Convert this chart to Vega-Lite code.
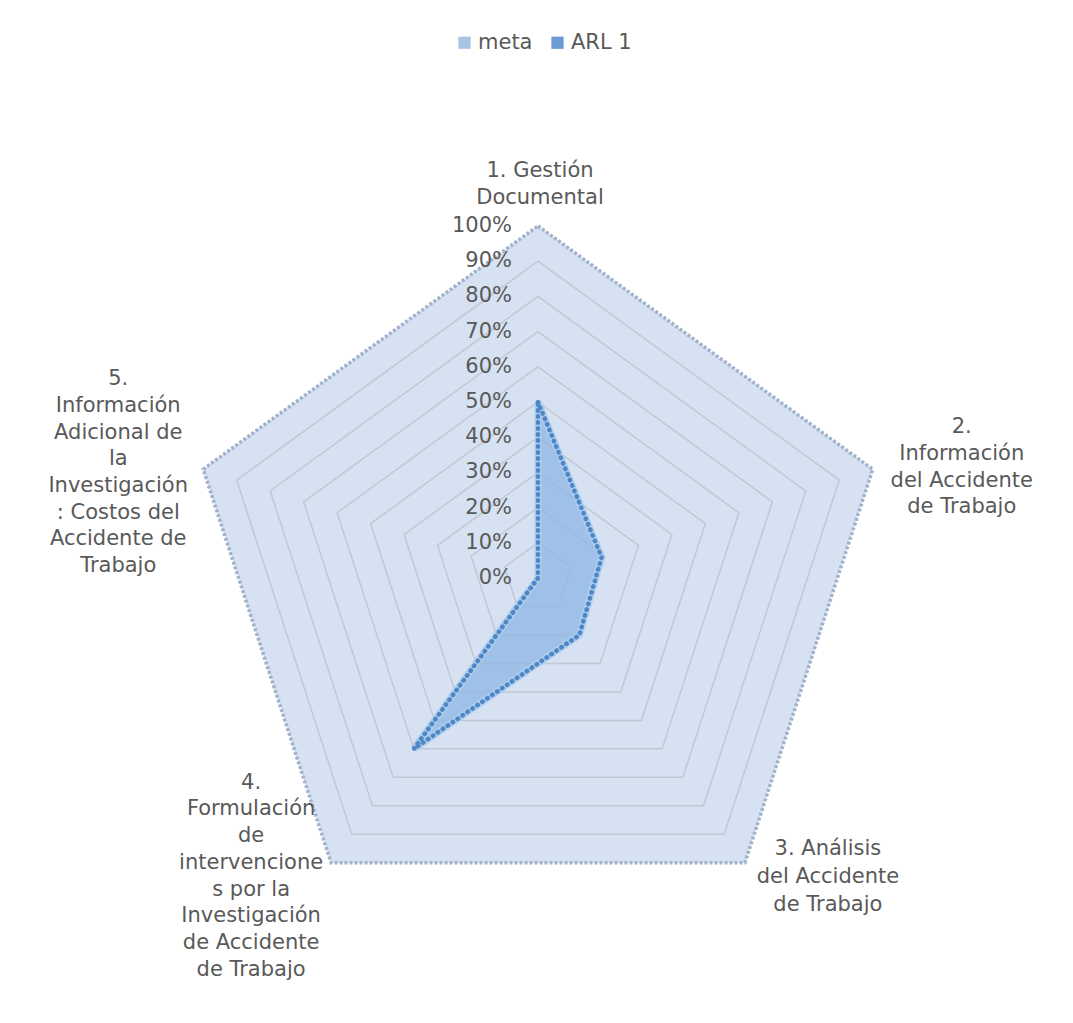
{
  "$schema": "https://vega.github.io/schema/vega-lite/v6.json",
  "width": 1073,
  "height": 1023,
  "autosize": "none",
  "padding": 0,
  "background": "white",
  "config": {"view": {"stroke": null}, "font": "DejaVu Sans"},
  "datasets": {
    "series": [
      {"eje": "1. Gestión Documental", "etiqueta": "1. Gestión|Documental", "k": 0, "serie": "meta", "valor": 1},
      {"eje": "2. Información del Accidente de Trabajo", "etiqueta": "2.|Información|del Accidente|de Trabajo", "k": 1, "serie": "meta", "valor": 1},
      {"eje": "3. Análisis del Accidente de Trabajo", "etiqueta": "3. Análisis|del Accidente|de Trabajo", "k": 2, "serie": "meta", "valor": 1},
      {"eje": "4. Formulación de intervenciones por la Investigación de Accidente de Trabajo", "etiqueta": "4.|Formulación|de|intervencione|s por la|Investigación|de Accidente|de Trabajo", "k": 3, "serie": "meta", "valor": 1},
      {"eje": "5. Información Adicional de la Investigación: Costos del Accidente de Trabajo", "etiqueta": "5.|Información|Adicional de|la|Investigación|: Costos del|Accidente de|Trabajo", "k": 4, "serie": "meta", "valor": 1},
      {"eje": "1. Gestión Documental", "etiqueta": "1. Gestión|Documental", "k": 0, "serie": "ARL 1", "valor": 0.5},
      {"eje": "2. Información del Accidente de Trabajo", "etiqueta": "2.|Información|del Accidente|de Trabajo", "k": 1, "serie": "ARL 1", "valor": 0.19},
      {"eje": "3. Análisis del Accidente de Trabajo", "etiqueta": "3. Análisis|del Accidente|de Trabajo", "k": 2, "serie": "ARL 1", "valor": 0.2},
      {"eje": "4. Formulación de intervenciones por la Investigación de Accidente de Trabajo", "etiqueta": "4.|Formulación|de|intervencione|s por la|Investigación|de Accidente|de Trabajo", "k": 3, "serie": "ARL 1", "valor": 0.6},
      {"eje": "5. Información Adicional de la Investigación: Costos del Accidente de Trabajo", "etiqueta": "5.|Información|Adicional de|la|Investigación|: Costos del|Accidente de|Trabajo", "k": 4, "serie": "ARL 1", "valor": 0}
    ],
    "niveles": [
      {"nivel": 0, "k": [0, 1, 2, 3, 4]},
      {"nivel": 0.1, "k": [0, 1, 2, 3, 4]},
      {"nivel": 0.2, "k": [0, 1, 2, 3, 4]},
      {"nivel": 0.3, "k": [0, 1, 2, 3, 4]},
      {"nivel": 0.4, "k": [0, 1, 2, 3, 4]},
      {"nivel": 0.5, "k": [0, 1, 2, 3, 4]},
      {"nivel": 0.6, "k": [0, 1, 2, 3, 4]},
      {"nivel": 0.7, "k": [0, 1, 2, 3, 4]},
      {"nivel": 0.8, "k": [0, 1, 2, 3, 4]},
      {"nivel": 0.9, "k": [0, 1, 2, 3, 4]},
      {"nivel": 1, "k": [0, 1, 2, 3, 4]}
    ]
  },
  "encoding": {
    "x": {"field": "px", "type": "quantitative", "scale": {"domain": [-1.5284, 1.5199], "nice": false, "zero": false}, "axis": null},
    "y": {"field": "py", "type": "quantitative", "scale": {"domain": [-1.2642, 1.642], "nice": false, "zero": false}, "axis": null}
  },
  "layer": [
    {
      "data": {"name": "series"},
      "transform": [
        {"filter": "datum.serie == 'meta'"},
        {"calculate": "datum.valor * sin(datum.k * 2 * PI / 5)", "as": "px"},
        {"calculate": "datum.valor * cos(datum.k * 2 * PI / 5)", "as": "py"}
      ],
      "mark": {"type": "line", "interpolate": "linear-closed", "fill": "#d6e1f2", "stroke": null},
      "encoding": {"order": {"field": "k"}}
    },
    {
      "data": {"name": "niveles"},
      "transform": [
        {"flatten": ["k"]},
        {"filter": "datum.nivel > 0 && datum.nivel < 1"},
        {"calculate": "datum.nivel * sin(datum.k * 2 * PI / 5)", "as": "px"},
        {"calculate": "datum.nivel * cos(datum.k * 2 * PI / 5)", "as": "py"}
      ],
      "mark": {"type": "line", "interpolate": "linear-closed", "stroke": "#c2c8d2", "strokeWidth": 1.5},
      "encoding": {"order": {"field": "k"}, "detail": {"field": "nivel"}}
    },
    {
      "data": {"name": "series"},
      "transform": [
        {"filter": "datum.serie == 'meta'"},
        {"calculate": "datum.valor * sin(datum.k * 2 * PI / 5)", "as": "px"},
        {"calculate": "datum.valor * cos(datum.k * 2 * PI / 5)", "as": "py"}
      ],
      "mark": {"type": "line", "interpolate": "linear-closed", "stroke": "#a0b2cc", "strokeWidth": 3.5, "strokeDash": [3, 2]},
      "encoding": {"order": {"field": "k"}}
    },
    {
      "data": {"name": "series"},
      "transform": [
        {"filter": "datum.serie == 'ARL 1'"},
        {"calculate": "datum.valor * sin(datum.k * 2 * PI / 5)", "as": "px"},
        {"calculate": "datum.valor * cos(datum.k * 2 * PI / 5)", "as": "py"}
      ],
      "mark": {"type": "line", "interpolate": "linear-closed", "fill": "#8db5e3", "fillOpacity": 0.75, "stroke": "#acccef", "strokeWidth": 7},
      "encoding": {"order": {"field": "k"}}
    },
    {
      "data": {"name": "series"},
      "transform": [
        {"filter": "datum.serie == 'ARL 1'"},
        {"calculate": "datum.valor * sin(datum.k * 2 * PI / 5)", "as": "px"},
        {"calculate": "datum.valor * cos(datum.k * 2 * PI / 5)", "as": "py"}
      ],
      "mark": {"type": "line", "interpolate": "linear-closed", "stroke": "#4f86c4", "strokeWidth": 4.5, "strokeDash": [0.5, 5.5], "strokeCap": "round"},
      "encoding": {"order": {"field": "k"}}
    },
    {
      "data": {"name": "niveles"},
      "transform": [
        {"calculate": "0", "as": "px"},
        {"calculate": "datum.nivel", "as": "py"}
      ],
      "mark": {"type": "text", "align": "right", "baseline": "middle", "dx": -26, "fontSize": 21, "color": "#595959"},
      "encoding": {"text": {"field": "nivel", "type": "quantitative", "format": ".0%"}}
    },
    {
      "data": {"name": "series"},
      "transform": [
        {"filter": "datum.serie == 'meta' && datum.k == 0"},
        {"calculate": "datum.valor * sin(datum.k * 2 * PI / 5)", "as": "px"},
        {"calculate": "datum.valor * cos(datum.k * 2 * PI / 5)", "as": "py"}
      ],
      "mark": {"type": "text", "align": "center", "baseline": "middle", "dx": 2, "dy": -55, "fontSize": 21, "lineHeight": 26.7, "lineBreak": "|", "color": "#595959"},
      "encoding": {"text": {"field": "etiqueta"}}
    },
    {
      "data": {"name": "series"},
      "transform": [
        {"filter": "datum.serie == 'meta' && datum.k == 1"},
        {"calculate": "datum.valor * sin(datum.k * 2 * PI / 5)", "as": "px"},
        {"calculate": "datum.valor * cos(datum.k * 2 * PI / 5)", "as": "py"}
      ],
      "mark": {"type": "text", "align": "center", "baseline": "middle", "dx": 89, "dy": -42, "fontSize": 21, "lineHeight": 26.7, "lineBreak": "|", "color": "#595959"},
      "encoding": {"text": {"field": "etiqueta"}}
    },
    {
      "data": {"name": "series"},
      "transform": [
        {"filter": "datum.serie == 'meta' && datum.k == 2"},
        {"calculate": "datum.valor * sin(datum.k * 2 * PI / 5)", "as": "px"},
        {"calculate": "datum.valor * cos(datum.k * 2 * PI / 5)", "as": "py"}
      ],
      "mark": {"type": "text", "align": "center", "baseline": "middle", "dx": 83, "dy": -14, "fontSize": 21, "lineHeight": 28, "lineBreak": "|", "color": "#595959"},
      "encoding": {"text": {"field": "etiqueta"}}
    },
    {
      "data": {"name": "series"},
      "transform": [
        {"filter": "datum.serie == 'meta' && datum.k == 3"},
        {"calculate": "datum.valor * sin(datum.k * 2 * PI / 5)", "as": "px"},
        {"calculate": "datum.valor * cos(datum.k * 2 * PI / 5)", "as": "py"}
      ],
      "mark": {"type": "text", "align": "center", "baseline": "middle", "dx": -80, "dy": -80, "fontSize": 21, "lineHeight": 26.7, "lineBreak": "|", "color": "#595959"},
      "encoding": {"text": {"field": "etiqueta"}}
    },
    {
      "data": {"name": "series"},
      "transform": [
        {"filter": "datum.serie == 'meta' && datum.k == 4"},
        {"calculate": "datum.valor * sin(datum.k * 2 * PI / 5)", "as": "px"},
        {"calculate": "datum.valor * cos(datum.k * 2 * PI / 5)", "as": "py"}
      ],
      "mark": {"type": "text", "align": "center", "baseline": "middle", "dx": -85, "dy": -90, "fontSize": 21, "lineHeight": 26.7, "lineBreak": "|", "color": "#595959"},
      "encoding": {"text": {"field": "etiqueta"}}
    },
    {
      "data": {"name": "series"},
      "transform": [
        {"filter": "datum.k == 4"},
        {"calculate": "0", "as": "px"},
        {"calculate": "0", "as": "py"}
      ],
      "mark": {"type": "point", "filled": true, "opacity": 0},
      "encoding": {
        "color": {
          "field": "serie",
          "type": "nominal",
          "scale": {"domain": ["meta", "ARL 1"], "range": ["#aac4e6", "#6b9bd5"]},
          "legend": {
            "title": null,
            "orient": "none",
            "legendX": 454,
            "legendY": 32,
            "direction": "horizontal",
            "symbolType": "square",
            "symbolSize": 150,
            "symbolOpacity": 1,
            "symbolStrokeWidth": 0,
            "labelFontSize": 21,
            "labelColor": "#595959",
            "labelFont": "DejaVu Sans",
            "labelOffset": 3,
            "columnPadding": 14
          }
        }
      }
    }
  ]
}
